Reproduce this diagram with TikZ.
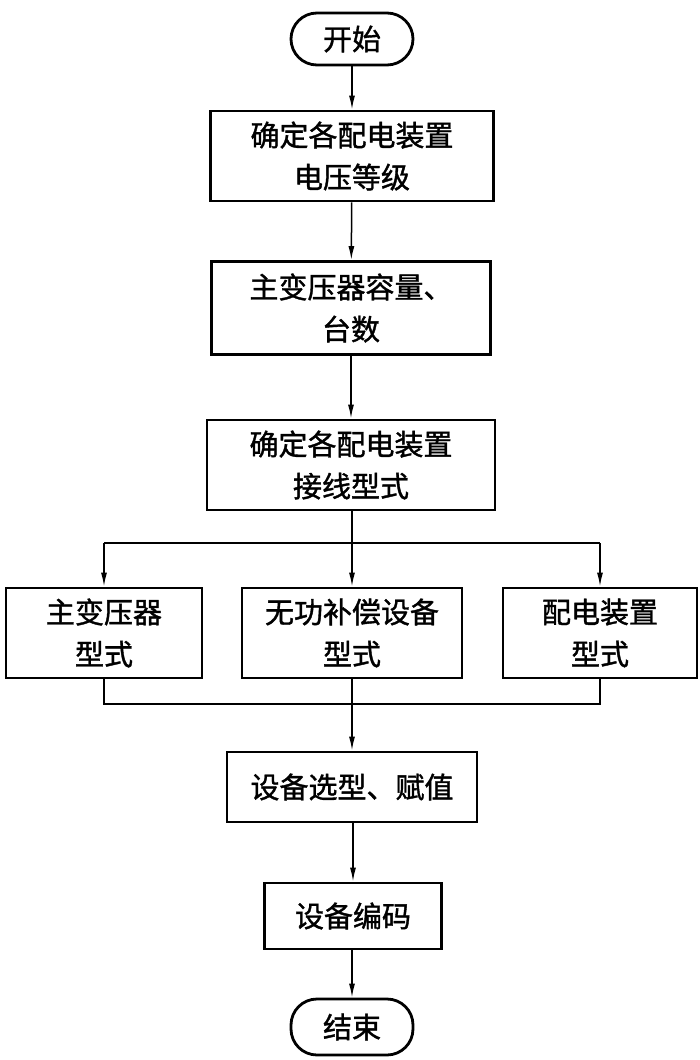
\documentclass[tikz,border=0pt]{standalone}
\usepackage{fontspec}
\setmainfont[AutoFakeBold=1.3]{Noto Sans CJK SC}
\usetikzlibrary{arrows.meta}
\begin{document}
\begin{tikzpicture}[x=1pt,y=-1pt,
  every node/.style={font=\fontsize{29}{42}\selectfont\bfseries, align=center, inner sep=0pt},
  procbox/.style={draw, line width=2.8pt, rectangle},
  term/.style={draw, line width=2.8pt, rectangle, rounded corners=26pt, minimum width=122pt},
  conn/.style={line width=1.5pt},
  arr/.style={conn, -{Latex[length=14pt,width=6pt]}}]
\useasboundingbox (0,0) rectangle (700,1060);
\node[term, minimum height=52pt] (start) at (352,39) {开始};
\node[procbox, minimum width=283pt, minimum height=90pt] (b1) at (352,156) {确定各配电装置\\电压等级};
\node[procbox, minimum width=279pt, minimum height=93pt] (b2) at (351,308) {主变压器容量、\\台数};
\node[procbox, minimum width=288pt, minimum height=90pt] (b3) at (351,465) {确定各配电装置\\接线型式};
\node[procbox, minimum width=196pt, minimum height=90pt] (l) at (104,633) {主变压器\\型式};
\node[procbox, minimum width=220pt, minimum height=90pt] (m) at (352,633) {无功补偿设备\\型式};
\node[procbox, minimum width=194pt, minimum height=90pt] (r) at (600,633) {配电装置\\型式};
\node[procbox, minimum width=250pt, minimum height=70pt] (b4) at (352,787) {设备选型、赋值};
\node[procbox, minimum width=177pt, minimum height=66pt] (b5) at (353,916) {设备编码};
\node[term, minimum height=56pt] (end) at (352,1027) {结束};
\coordinate (sl) at (104,543);
\coordinate (sr) at (600,543);
\coordinate (ml) at (104,704);
\coordinate (mr) at (600,704);
\draw[arr] (start) -- (b1);
\draw[arr] (b1) -- (b2);
\draw[arr] (b2) -- (b3);
\draw[arr] (b3.south -| m) -- (m);
\draw[conn] (sl) -- (sr);
\draw[arr] (sl) -- (l);
\draw[arr] (sr) -- (r);
\draw[conn] (l) -- (ml) -- (mr) -- (r);
\draw[arr] (m) -- (b4);
\draw[arr] (b4.south -| b5) -- (b5);
\draw[arr] (b5.south -| end) -- (end);
\end{tikzpicture}
\end{document}
